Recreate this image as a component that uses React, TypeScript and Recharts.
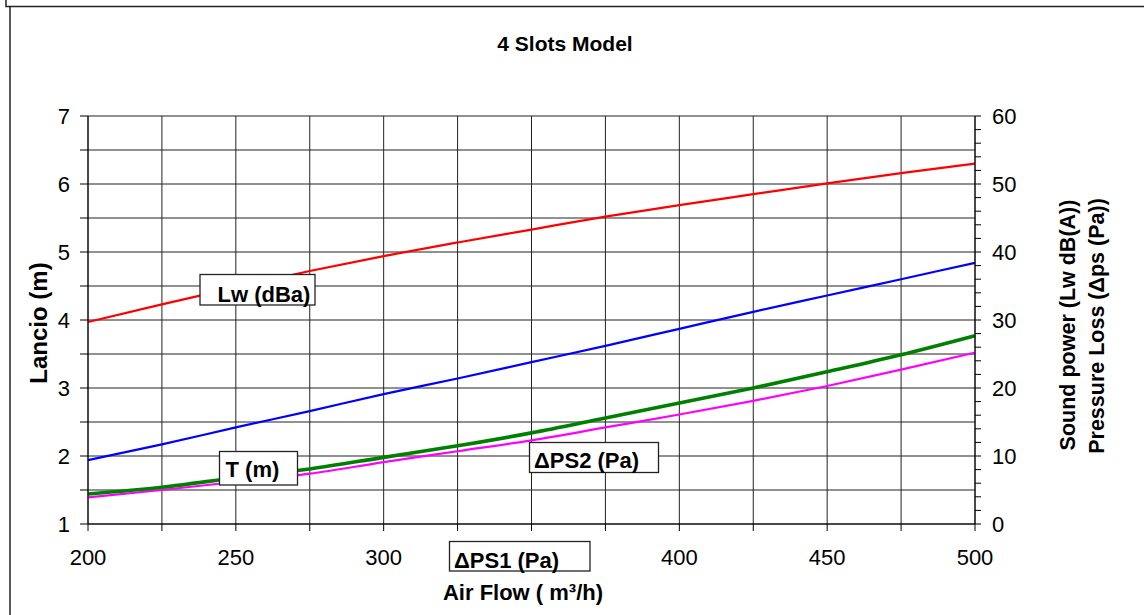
import React from "react";
import { LineChart, Line, XAxis, YAxis, CartesianGrid } from "recharts";

// ---- data ----
const airFlow = [200, 225, 250, 275, 300, 325, 350, 375, 400, 425, 450, 475, 500];
const throwT = [1.94, 2.17, 2.42, 2.66, 2.91, 3.14, 3.38, 3.62, 3.87, 4.12, 4.36, 4.6, 4.84];
const lwDba = [29.7, 32.3, 34.8, 37.2, 39.4, 41.4, 43.3, 45.2, 46.9, 48.5, 50.1, 51.6, 53.0];
const dps1 = [4.4, 5.4, 6.8, 8.1, 9.8, 11.5, 13.4, 15.6, 17.8, 20.0, 22.4, 24.9, 27.7];
const dps2 = [3.9, 5.0, 6.2, 7.4, 9.1, 10.7, 12.3, 14.2, 16.1, 18.1, 20.3, 22.7, 25.2];

const xTicks = [200, 225, 250, 275, 300, 325, 350, 375, 400, 425, 450, 475, 500];
const leftTicks = [1, 1.5, 2, 2.5, 3, 3.5, 4, 4.5, 5, 5.5, 6, 6.5, 7];
const rightTicks = [0, 2, 4, 6, 8, 10, 12, 14, 16, 18, 20, 22, 24, 26, 28, 30, 32, 34, 36, 38, 40, 42, 44, 46, 48, 50, 52, 54, 56, 58, 60];

const title = "4 Slots Model";
const xTitle = "Air Flow ( m³/h)";
const yLeftTitle = "Lancio (m)";
const yRightTitle1 = "Sound power (Lw dB(A))";
const yRightTitle2 = "Pressure Loss (Δps (Pa))";

const data = airFlow.map((q, i) => ({
  q,
  t: throwT[i],
  lw: lwDba[i],
  p1: dps1[i],
  p2: dps2[i],
}));

const FONT = "'Liberation Sans', Arial, Helvetica, sans-serif";
const TICK_FS = 22;

function BottomTick(p: any) {
  const v = p.payload?.value;
  if (v % 50 !== 0) return <g />;
  return (
    <text x={p.x} y={p.y} dy="0.71em" textAnchor="middle" fontFamily={FONT} fontSize={TICK_FS} fill="#000">
      {String(v)}
    </text>
  );
}

function LeftTick(p: any) {
  const v = p.payload?.value;
  if (!Number.isInteger(v)) return <g />;
  return (
    <text x={p.x} y={p.y} dy="0.355em" textAnchor="end" fontFamily={FONT} fontSize={TICK_FS} fill="#000">
      {String(v)}
    </text>
  );
}

function RightTick(p: any) {
  const v = p.payload?.value;
  if (v % 10 !== 0) return <g />;
  return (
    <text x={p.x} y={p.y} dy="0.355em" textAnchor="start" fontFamily={FONT} fontSize={TICK_FS} fill="#000">
      {String(v)}
    </text>
  );
}

function Box({ x, y, w, h, tx, ty, text }: { x: number; y: number; w: number; h: number; tx: number; ty: number; text: string }) {
  return (
    <g>
      <rect x={x} y={y} width={w} height={h} fill="#fff" stroke="#222" strokeWidth={1.3} />
      <text x={tx} y={ty} fontFamily={FONT} fontWeight="bold" fontSize={22} fill="#000">
        {text}
      </text>
    </g>
  );
}

export default function App() {
  return (
    <div style={{ position: "absolute", left: 0, top: 0, width: 1144, height: 615, background: "#fff" }}>
      <LineChart width={1144} height={615} data={data} margin={{ top: 116, right: 0, bottom: 0, left: 0 }}>
        <CartesianGrid yAxisId="left" stroke="#222" strokeWidth={1} />
        <XAxis
          dataKey="q"
          type="number"
          domain={[200, 500]}
          ticks={xTicks}
          interval={0}
          height={91}
          tickSize={7}
          tickMargin={18}
          stroke="#000"
          tick={BottomTick}
        />
        <YAxis
          yAxisId="left"
          domain={[1, 7]}
          ticks={leftTicks}
          interval={0}
          width={88}
          tickSize={8}
          tickMargin={10}
          stroke="#000"
          tick={LeftTick}
        />
        <YAxis
          yAxisId="right"
          orientation="right"
          domain={[0, 60]}
          ticks={rightTicks}
          interval={0}
          width={169}
          tickSize={6}
          tickMargin={11}
          stroke="#000"
          tick={RightTick}
        />
        <Line yAxisId="right" dataKey="lw" type="monotone" stroke="#ff0000" strokeWidth={2.2} dot={false} isAnimationActive={false} />
        <Line yAxisId="left" dataKey="t" type="monotone" stroke="#0000ff" strokeWidth={2.2} dot={false} isAnimationActive={false} />
        <Line yAxisId="right" dataKey="p2" type="monotone" stroke="#ff00ff" strokeWidth={2.2} dot={false} isAnimationActive={false} />
        <Line yAxisId="right" dataKey="p1" type="monotone" stroke="#008000" strokeWidth={3.6} dot={false} isAnimationActive={false} />
      </LineChart>
      <svg width={1144} height={615} style={{ position: "absolute", left: 0, top: 0, pointerEvents: "none" }}>
        <path d="M6,0 V6.5 H1144" fill="none" stroke="#222" strokeWidth={1.5} />
        <path d="M10,6.5 V615" fill="none" stroke="#222" strokeWidth={1.5} />
        <text x={565} y={51} textAnchor="middle" fontFamily={FONT} fontWeight="bold" fontSize={21} fill="#000">
          {title}
        </text>
        <text x={523} y={600} textAnchor="middle" fontFamily={FONT} fontWeight="bold" fontSize={22} fill="#000">
          {xTitle}
        </text>
        <text transform="translate(46.5,323) rotate(-90)" textAnchor="middle" fontFamily={FONT} fontWeight="bold" fontSize={24} fill="#000">
          {yLeftTitle}
        </text>
        <text transform="translate(1075,325) rotate(-90)" textAnchor="middle" fontFamily={FONT} fontWeight="bold" fontSize={21.5} fill="#000">
          {yRightTitle1}
        </text>
        <text transform="translate(1103.5,326) rotate(-90)" textAnchor="middle" fontFamily={FONT} fontWeight="bold" fontSize={21.5} fill="#000">
          {yRightTitle2}
        </text>
        <Box x={200} y={274.5} w={115} h={30.5} tx={217.5} ty={301.5} text="Lw (dBa)" />
        <Box x={219.5} y={451.5} w={78} h={33.5} tx={225.5} ty={476.5} text="T (m)" />
        <Box x={529.5} y={442.5} w={129} h={30} tx={534} ty={468.3} text="ΔPS2 (Pa)" />
        <Box x={449.5} y={541.5} w={140.5} h={29.5} tx={454} ty={567.5} text="ΔPS1 (Pa)" />
      </svg>
    </div>
  );
}
